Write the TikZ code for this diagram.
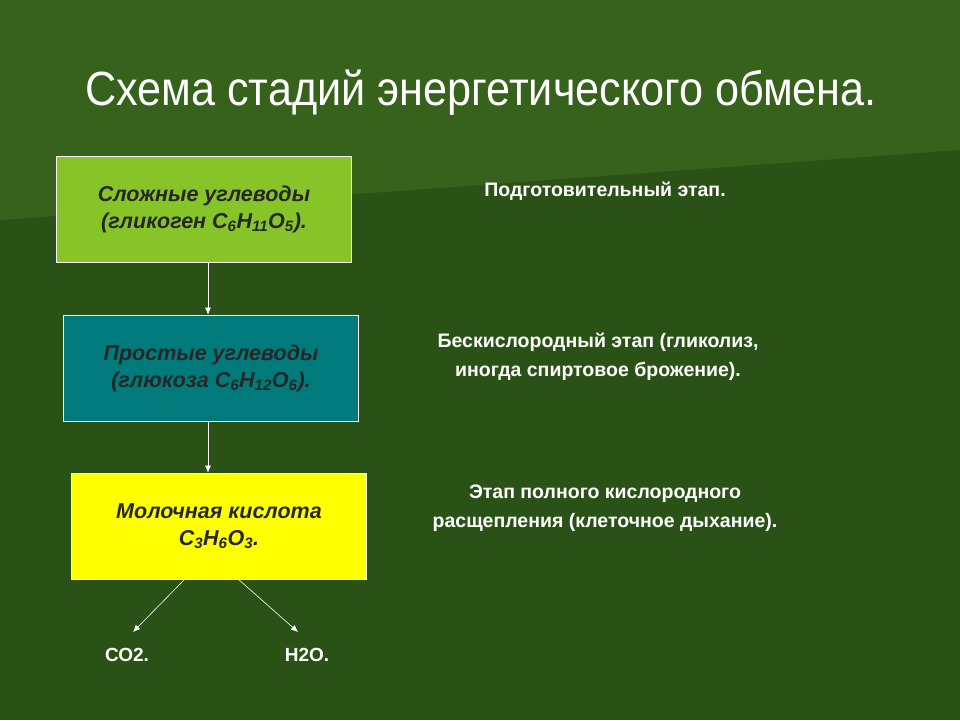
\documentclass[tikz,border=0pt]{standalone}
\usepackage{fontspec}
\setmainfont{Liberation Sans}
\usetikzlibrary{arrows.meta}
\definecolor{bgdark}{RGB}{42,82,22}
\definecolor{bgband}{RGB}{54,98,28}
\definecolor{cgreen}{RGB}{134,196,40}
\definecolor{cteal}{RGB}{0,122,122}
\definecolor{cyell}{RGB}{255,255,0}
\begin{document}
\begin{tikzpicture}[x=1pt,y=-1pt,
 box/.style={draw=white,line width=0.8pt,minimum width=295pt,minimum height=106pt,align=center,font=\fontsize{21.5}{27}\selectfont\bfseries\itshape,text=black!85},
 lbl/.style={align=center,text=white,font=\fontsize{19.5}{29}\selectfont\bfseries},
 arr/.style={draw=white,line width=0.6pt,-{Latex[length=7pt,width=6pt]}}]
\fill[bgdark] (0,0) rectangle (960,720);
\fill[bgband] (0,0) -- (960,0) -- (960,150) -- (0,220) -- cycle;
\useasboundingbox (0,0) rectangle (960,720);
\node[text=white,font=\fontsize{48}{52}\selectfont,xscale=0.9] (t) at (481,93) {Схема стадий энергетического обмена.};
\node[box,fill=cgreen] (b1) at (204,209) {Сложные углеводы\\(гликоген С\textsubscript{6}Н\textsubscript{11}О\textsubscript{5}).};
\node[box,fill=cteal] (b2) at (211,368) {Простые углеводы\\(глюкоза С\textsubscript{6}Н\textsubscript{12}О\textsubscript{6}).};
\node[box,fill=cyell] (b3) at (219,526) {Молочная кислота\\С\textsubscript{3}Н\textsubscript{6}О\textsubscript{3}.};
\draw[arr] (b1.south -| 208,0) -- (b2.north -| 208,0);
\draw[arr] (b2.south -| 208,0) -- (b3.north -| 208,0);
\node[text=white,font=\fontsize{19}{22}\selectfont\bfseries] (co) at (127,655) {СО2.};
\node[text=white,font=\fontsize{19}{22}\selectfont\bfseries] (ho) at (307,655) {Н2О.};
\coordinate (s1) at (185,579); \coordinate (e1) at (133,632);
\coordinate (s2) at (238,579); \coordinate (e2) at (298,632);
\draw[arr] (s1) -- (e1);
\draw[arr] (s2) -- (e2);
\node[lbl] (l1) at (605,191) {Подготовительный этап.};
\node[lbl] (l2) at (598,357) {Бескислородный этап (гликолиз,\\иногда спиртовое брожение).};
\node[lbl] (l3) at (605,508) {Этап полного кислородного\\расщепления (клеточное дыхание).};
\end{tikzpicture}
\end{document}
